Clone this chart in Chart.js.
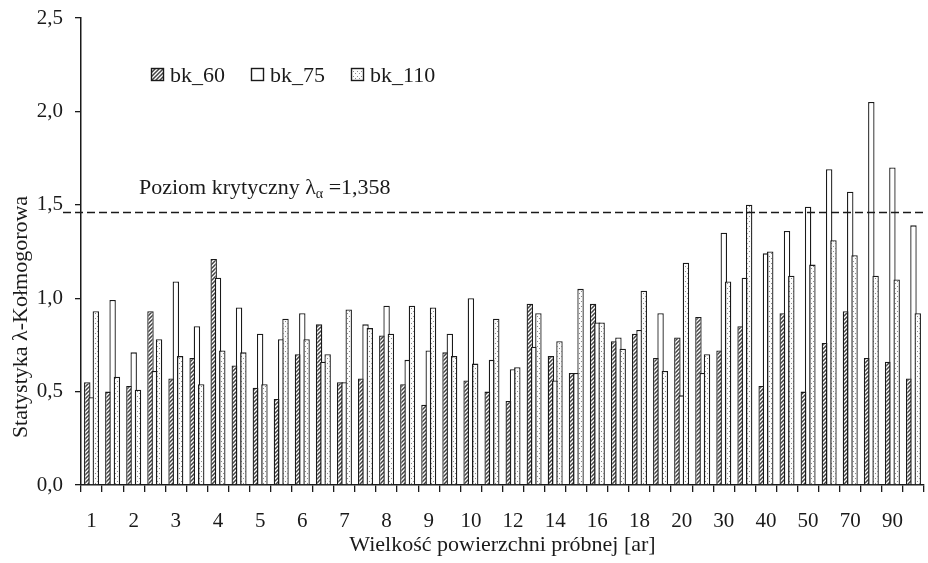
<!DOCTYPE html>
<html>
<head>
<meta charset="utf-8">
<script src="https://cdn.jsdelivr.net/npm/chart.js@4"></script>
<style>
  body { margin: 0; background: #fff; }
</style>
</head>
<body>
<canvas id="chart" width="928" height="563"></canvas>
<script>
// labels under every second group, the groups between stay unlabelled
const categories = [
  "1", "", "2", "", "3", "", "4", "", "5", "", "6", "", "7", "", "8", "", "9", "", "10", "",
  "12", "", "14", "", "16", "", "18", "", "20", "", "30", "", "40", "", "50", "", "70", "", "90", ""
];

const bk60 = [0.55, 0.50, 0.53, 0.93, 0.57, 0.68, 1.21, 0.64, 0.52, 0.46, 0.70, 0.86, 0.55, 0.57, 0.80, 0.54, 0.43, 0.71, 0.56, 0.50,
  0.45, 0.97, 0.69, 0.60, 0.97, 0.77, 0.81, 0.68, 0.79, 0.90, 0.72, 0.85, 0.53, 0.92, 0.50, 0.76, 0.93, 0.68, 0.66, 0.57];
const bk75 = [0.47, 0.99, 0.71, 0.61, 1.09, 0.85, 1.11, 0.95, 0.81, 0.78, 0.92, 0.66, 0.55, 0.86, 0.96, 0.67, 0.72, 0.81, 1.00, 0.67,
  0.62, 0.74, 0.56, 0.60, 0.87, 0.79, 0.83, 0.92, 0.48, 0.60, 1.35, 1.11, 1.24, 1.36, 1.49, 1.69, 1.57, 2.05, 1.70, 1.39];
const bk110 = [0.93, 0.58, 0.51, 0.78, 0.69, 0.54, 0.72, 0.71, 0.54, 0.89, 0.78, 0.70, 0.94, 0.84, 0.81, 0.96, 0.95, 0.69, 0.65, 0.89,
  0.63, 0.92, 0.77, 1.05, 0.87, 0.73, 1.04, 0.61, 1.19, 0.70, 1.09, 1.50, 1.25, 1.12, 1.18, 1.31, 1.23, 1.12, 1.10, 0.92];

const seriesNames = ["bk_60", "bk_75", "bk_110"];
const yTicks = [0, 0.5, 1.0, 1.5, 2.0, 2.5];
const critLine = 1.46; // where the dashed line is drawn
const critText = ["Poziom krytyczny λ", "α", " =1,358"];

const FONT = "'Liberation Serif', 'Times New Roman', serif";
const INK = "#1a1a1a";

// pattern fills
function hatchPattern() {
  const c = document.createElement("canvas");
  c.width = 4; c.height = 4;
  const g = c.getContext("2d");
  g.fillStyle = "#fff";
  g.fillRect(0, 0, 4, 4);
  g.strokeStyle = "#444";
  g.lineWidth = 1.5;
  g.beginPath();
  g.moveTo(-1, 5); g.lineTo(5, -1);
  g.moveTo(-1, 1); g.lineTo(1, -1);
  g.moveTo(3, 5); g.lineTo(5, 3);
  g.stroke();
  return g.createPattern(c, "repeat");
}

function dotPattern() {
  const c = document.createElement("canvas");
  c.width = 4; c.height = 5;
  const g = c.getContext("2d");
  g.fillStyle = "#fbfbfb";
  g.fillRect(0, 0, 4, 5);
  g.fillStyle = "#8a8a8a";
  g.fillRect(1, 1, 1, 1);
  g.fillRect(3, 3, 1, 1);
  return g.createPattern(c, "repeat");
}

const fills = [hatchPattern(), "#ffffff", dotPattern()];

function commaFmt(v) {
  return Number(v).toFixed(1).replace(".", ",");
}

// draw datasets left to right so bk_110 lies on top
const drawOrder = {
  id: "drawOrder",
  beforeDatasetsDraw(chart) {
    for (let i = 0; i < chart.data.datasets.length; i++) {
      chart.getDatasetMeta(i).controller.draw();
    }
    return false;
  }
};

// legend, critical line with its text, y title
const decor = {
  id: "decor",
  afterDraw(chart) {
    const ctx = chart.ctx;
    const area = chart.chartArea;
    const y = chart.scales.y;
    ctx.save();

    // dashed line
    const ly = Math.round(y.getPixelForValue(critLine)) + 0.5;
    ctx.strokeStyle = INK;
    ctx.lineWidth = 1.3;
    ctx.setLineDash([8, 4]);
    ctx.beginPath();
    ctx.moveTo(area.left - 18, ly);
    ctx.lineTo(area.right, ly);
    ctx.stroke();
    ctx.setLineDash([]);

    // text above the line
    ctx.fillStyle = INK;
    ctx.textBaseline = "alphabetic";
    ctx.textAlign = "left";
    let tx = 139;
    const ty = ly - 19;
    ctx.font = "22px " + FONT;
    ctx.fillText(critText[0], tx, ty);
    tx += ctx.measureText(critText[0]).width;
    ctx.font = "14px " + FONT;
    ctx.fillText(critText[1], tx, ty + 4);
    tx += ctx.measureText(critText[1]).width;
    ctx.font = "22px " + FONT;
    ctx.fillText(critText[2], tx, ty);

    // legend
    const lx = [151, 251, 351];
    chart.data.datasets.forEach((ds, i) => {
      ctx.fillStyle = ds.backgroundColor;
      ctx.fillRect(lx[i], 68, 13, 13);
      ctx.strokeStyle = INK;
      ctx.lineWidth = 1.4;
      ctx.strokeRect(lx[i] + 0.5, 68.5, 12, 12);
      ctx.fillStyle = INK;
      ctx.font = "22px " + FONT;
      ctx.fillText(ds.label, lx[i] + 19, 82);
    });

    // y axis title
    ctx.translate(21, 317);
    ctx.rotate(-Math.PI / 2);
    ctx.textAlign = "center";
    ctx.textBaseline = "middle";
    ctx.font = "22px " + FONT;
    ctx.fillText("Statystyka λ-Kołmogorowa", 0, 0);
    ctx.restore();
  }
};

const ctx = document.getElementById("chart").getContext("2d");
new Chart(ctx, {
  type: "bar",
  data: {
    labels: categories,
    datasets: [bk60, bk75, bk110].map((vals, i) => ({
      label: seriesNames[i],
      data: vals,
      backgroundColor: fills[i],
      borderColor: INK,
      borderWidth: 1.3,
      categoryPercentage: 0.61,
      barPercentage: 1.5
    }))
  },
  options: {
    responsive: false,
    animation: false,
    devicePixelRatio: 1,
    layout: {
      padding: { top: 18, right: 4, left: 0, bottom: 0 }
    },
    plugins: {
      legend: { display: false },
      tooltip: { enabled: false }
    },
    scales: {
      x: {
        grid: {
          display: true,
          drawOnChartArea: false,
          drawTicks: true,
          tickLength: 7,
          color: INK,
          lineWidth: 1.3,
          offset: true
        },
        border: { display: true, color: INK, width: 1.5 },
        ticks: {
          autoSkip: false,
          maxRotation: 0,
          padding: 17,
          color: INK,
          font: { family: FONT, size: 21 }
        },
        title: {
          display: true,
          text: "Wielkość powierzchni próbnej [ar]",
          color: INK,
          font: { family: FONT, size: 22 },
          padding: { top: 0, bottom: 5 }
        },
        afterFit: (s) => { s.height = 78; s.paddingLeft = 0; s.paddingRight = 0; }
      },
      y: {
        min: 0,
        max: 2.5,
        afterBuildTicks: (s) => { s.ticks = yTicks.map((v) => ({ value: v })); },
        grid: {
          display: true,
          drawOnChartArea: false,
          drawTicks: true,
          tickLength: 6,
          color: INK,
          lineWidth: 1.3
        },
        border: { display: true, color: INK, width: 1.5 },
        ticks: {
          padding: 12,
          color: INK,
          font: { family: FONT, size: 21 },
          callback: (v) => commaFmt(v)
        },
        afterFit: (s) => { s.width = 81; s.paddingTop = 0; s.paddingBottom = 0; }
      }
    }
  },
  plugins: [drawOrder, decor]
});
</script>
</body>
</html>
